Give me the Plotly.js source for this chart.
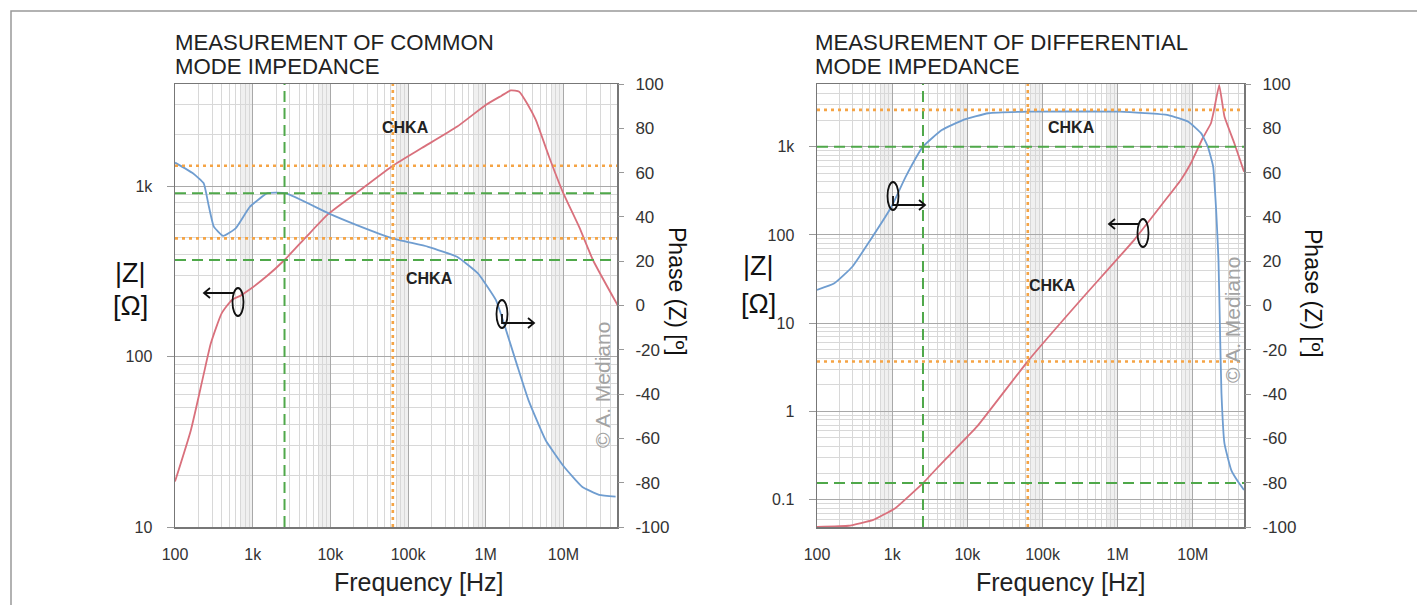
<!DOCTYPE html>
<html><head><meta charset="utf-8">
<script src="https://cdn.plot.ly/plotly-3.0.1.min.js"></script>
<style>html,body{margin:0;padding:0;background:#fff;}#chart{width:1417px;height:605px;}</style>
</head><body><div id="chart"></div>
<script>
// ---------- data ----------
const cmZFreq = [100, 160, 230, 290, 400, 540, 700, 830, 1500, 2570, 5000, 9500, 25000, 63700, 150000, 430000, 1000000, 1600000, 2100000, 2700000, 3500000, 4400000, 6500000, 10000000, 16000000, 24000000, 50000000];
const cmZMag = [18.5, 37, 76, 120, 180, 215, 228, 240, 295, 369, 510, 690, 960, 1320, 1675, 2240, 3000, 3400, 3650, 3590, 3000, 2460, 1500, 907, 575, 369, 200];
const cmPhFreq = [100, 170, 234, 270, 316, 417, 603, 923, 1550, 2660, 9480, 21900, 63100, 182000, 427000, 794000, 1350000, 1660000, 2570000, 3550000, 5890000, 10200000, 17400000, 28800000, 47000000];
const cmPhase = [64.5, 59.7, 55.2, 45.5, 35.6, 31.4, 34.8, 44.6, 50.7, 50.7, 41.6, 36.3, 30.3, 26.5, 22, 14.5, 2.5, -6.5, -27.6, -42.7, -60.7, -72.8, -81.8, -85.5, -86.3];

const dmZFreq = [100, 263, 562, 1100, 2570, 4570, 13500, 63100, 324000, 1660000, 4570000, 6920000, 9330000, 13500000, 17400000, 19100000, 22400000, 26300000, 35500000, 47900000];
const dmZMag = [0.049, 0.0506, 0.059, 0.080, 0.154, 0.26, 0.675, 3.67, 18.4, 88, 265, 420, 640, 1245, 1840, 2600, 5000, 2200, 1100, 520];
const dmPhFreq = [100, 170, 295, 513, 977, 1510, 2570, 4570, 8710, 19000, 63100, 1070000, 4680000, 8700000, 12900000, 15800000, 18600000, 20400000, 21900000, 22900000, 24000000, 26300000, 32400000, 39800000, 47900000];
const dmPhase = [7, 10, 17.5, 29.6, 44.6, 58.1, 71.7, 79.2, 83.7, 86.8, 87.5, 87.5, 86, 83, 77.7, 71.7, 62.7, 43, 20.5, -9.6, -39.6, -62.2, -74.3, -79.5, -83.3];

const freqTickVals = [100, 1000, 10000, 100000, 1000000, 10000000];
const freqTickText = ['100', '1k', '10k', '100k', '1M', '10M'];
const cmZTickVals = [10, 100, 1000];
const cmZTickText = ['10', '100', '1k'];
const dmZTickVals = [0.1, 1, 10, 100, 1000];
const dmZTickText = ['0.1', '1', '10', '100', '1k'];
const phaseTickVals = [-100, -80, -60, -40, -20, 0, 20, 40, 60, 80, 100];
const phaseTickText = ['-100', '-80', '-60', '-40', '-20', '0', '20', '40', '60', '80', '100'];

// marker (cursor) lines: [green, orange]
const markerFreq = [2570, 63700];
const cmMarkerPhase = [50.7, 30.3];
const cmMarkerZ = [369, 1320];
const dmMarkerPhase = [71.7, 88.3];
const dmMarkerZ = [0.154, 3.67];

const labelCHKA = 'CHKA';
const titleCM = ['MEASUREMENT OF COMMON', 'MODE IMPEDANCE'];
const titleDM = ['MEASUREMENT OF DIFFERENTIAL', 'MODE IMPEDANCE'];

// ---------- layout helpers ----------
const W = 1417, H = 605;
const px = x => x / W, py = y => 1 - y / H;
const FONT = 'Liberation Sans, Arial, sans-serif';
const RED = '#d9707c', BLUE = '#6f9dd0', GREEN = '#4fa84a', ORANGE = '#f5a445';

function minorVals(lo, hi) {
  const v = [];
  for (let e = lo; e <= hi; e++) for (let m = 2; m <= 9; m++) v.push(m * Math.pow(10, e));
  return v;
}

const traces = [
  {x: cmZFreq, y: cmZMag, xaxis: 'x', yaxis: 'y', mode: 'lines', line: {color: RED, width: 1.8, shape: 'spline', smoothing: 0.5}, hoverinfo: 'skip'},
  {x: cmPhFreq, y: cmPhase, xaxis: 'x', yaxis: 'y2', mode: 'lines', line: {color: BLUE, width: 1.8, shape: 'spline', smoothing: 0.4}, hoverinfo: 'skip'},
  {x: dmZFreq, y: dmZMag, xaxis: 'x2', yaxis: 'y3', mode: 'lines', line: {color: RED, width: 1.8, shape: 'spline', smoothing: 0.3}, hoverinfo: 'skip'},
  {x: dmPhFreq, y: dmPhase, xaxis: 'x2', yaxis: 'y4', mode: 'lines', line: {color: BLUE, width: 1.8, shape: 'spline', smoothing: 0.4}, hoverinfo: 'skip'}
];

const tickFont = {family: FONT, size: 16, color: '#333'};
function xAx(domain, range) {
  return {type: 'log', domain, range, tickvals: freqTickVals, ticktext: freqTickText, tickfont: tickFont,
    showgrid: true, gridcolor: '#a9a9a9', gridwidth: 1, zeroline: false, showline: true, linecolor: '#777', linewidth: 1.5, mirror: true,
    ticks: '', ticklabelstandoff: 12,
    minor: {tickvals: minorVals(2, 7), showgrid: true, gridcolor: '#d8d8d8', gridwidth: 1, ticks: ''}, fixedrange: true};
}
function zAx(anchor, range, tv, tt, lo, hi) {
  return {type: 'log', anchor, domain: [py(527), py(84)], range, tickvals: tv, ticktext: tt, tickfont: tickFont,
    showgrid: true, gridcolor: '#a9a9a9', zeroline: false, showline: true, linecolor: '#777', linewidth: 1.5, mirror: true,
    ticks: 'outside', ticklen: 7, tickcolor: '#999', ticklabelstandoff: 11,
    minor: {tickvals: minorVals(lo, hi), showgrid: true, gridcolor: '#d8d8d8', ticks: ''}, fixedrange: true};
}
function phAx(anchor, over) {
  return {anchor, overlaying: over, side: 'right', range: [-100, 100], tickvals: phaseTickVals, ticktext: phaseTickText,
    tickfont: {family: FONT, size: 17, color: '#333'}, showgrid: false, zeroline: false, showline: false, ticks: 'outside', ticklen: 6, tickcolor: '#999',
    ticklabelstandoff: 8, fixedrange: true};
}

const shapes = [];
// light grey bands near the end of each decade
['x', 'x2'].forEach(xr => {
  for (let e = 2; e <= 7; e++) {
    shapes.push({type: 'rect', xref: xr, yref: (xr === 'x' ? 'y' : 'y3') + ' domain', x0: 7 * Math.pow(10, e), x1: 10 * Math.pow(10, e), y0: 0, y1: 1,
      fillcolor: '#f0f0f0', line: {width: 0}, layer: 'below'});
  }
});
function vline(xr, yr, x, color, dash, w) {
  return {type: 'line', xref: xr, yref: yr + ' domain', x0: x, x1: x, y0: 0, y1: 1, line: {color, width: w, dash}};
}
function hline(xr, yr, y, color, dash, w) {
  return {type: 'line', xref: xr + ' domain', yref: yr, x0: 0, x1: 1, y0: y, y1: y, line: {color, width: w, dash}};
}
const GD = '11px,6px', OD = '3px,4px', GW = 2, OW = 2.6;
shapes.push(vline('x', 'y', markerFreq[0], GREEN, GD, GW), vline('x', 'y', markerFreq[1], ORANGE, OD, OW));
shapes.push(hline('x', 'y2', cmMarkerPhase[0], GREEN, GD, GW), hline('x', 'y2', cmMarkerPhase[1], ORANGE, OD, OW));
shapes.push(hline('x', 'y', cmMarkerZ[0], GREEN, GD, GW), hline('x', 'y', cmMarkerZ[1], ORANGE, OD, OW));
shapes.push(vline('x2', 'y3', markerFreq[0], GREEN, GD, GW), vline('x2', 'y3', markerFreq[1], ORANGE, OD, OW));
shapes.push(hline('x2', 'y4', dmMarkerPhase[0], GREEN, GD, GW), hline('x2', 'y4', dmMarkerPhase[1], ORANGE, OD, OW));
shapes.push(hline('x2', 'y3', dmMarkerZ[0], GREEN, GD, GW), hline('x2', 'y3', dmMarkerZ[1], ORANGE, OD, OW));

// hand-drawn axis pointers (ellipse + arrow)
function pointer(cx, cy, dir) {
  const rx = 5.5, ry = 14;
  shapes.push({type: 'circle', xref: 'paper', yref: 'paper', x0: px(cx - rx), x1: px(cx + rx), y0: py(cy + ry), y1: py(cy - ry),
    line: {color: '#111', width: 1.8}});
  let p;
  if (dir < 0) {
    const ay = cy - 9, x1 = cx - 4, x2 = cx - 34;
    p = `M${px(x1)},${py(ay)} L${px(x2)},${py(ay)} M${px(x2 + 6)},${py(ay - 5)} L${px(x2)},${py(ay)} L${px(x2 + 6)},${py(ay + 5)}`;
  } else {
    const ay = cy + 9, x1 = cx, x2 = cx + 32;
    p = `M${px(x1)},${py(cy)} L${px(x1)},${py(ay)} L${px(x2)},${py(ay)} M${px(x2 - 6)},${py(ay - 5)} L${px(x2)},${py(ay)} L${px(x2 - 6)},${py(ay + 5)}`;
  }
  shapes.push({type: 'path', xref: 'paper', yref: 'paper', path: p, line: {color: '#111', width: 1.8}});
}
pointer(238, 302, -1);
pointer(502, 314, 1);
pointer(893, 196, 1);
pointer(1143, 233, -1);

// outer frame
shapes.push({type: 'rect', xref: 'paper', yref: 'paper', x0: px(11), x1: px(1440), y0: py(640), y1: py(11), line: {color: '#999', width: 1.5}});

function ann(x, y, text, size, opts) {
  return Object.assign({xref: 'paper', yref: 'paper', x: px(x), y: py(y), text, showarrow: false, xanchor: 'center', yanchor: 'middle',
    font: {family: FONT, size, color: '#222'}}, opts || {});
}
const dark = s => ({family: FONT, size: s, color: '#111'});
const annotations = [
  ann(173, 42, titleCM[0], 22.2, {xanchor: 'left'}),
  ann(173, 67, titleCM[1], 22.2, {xanchor: 'left'}),
  ann(813, 42, titleDM[0], 22.2, {xanchor: 'left'}),
  ann(813, 67, titleDM[1], 22.2, {xanchor: 'left'}),
  ann(130, 273, '|Z|', 27, {font: dark(27)}),
  ann(130, 306, '[Ω]', 27, {font: dark(27)}),
  ann(758, 266, '|Z|', 27, {font: dark(27)}),
  ann(758, 304, '[Ω]', 27, {font: dark(27)}),
  ann(677, 291, 'Phase (Z) [º]', 23, {textangle: 90, font: dark(23)}),
  ann(1313, 293, 'Phase (Z) [º]', 23, {textangle: 90, font: dark(23)}),
  ann(419, 582, 'Frequency [Hz]', 25),
  ann(1061, 582, 'Frequency [Hz]', 25),
  ann(405, 127, '<b>' + labelCHKA + '</b>', 16),
  ann(429, 278, '<b>' + labelCHKA + '</b>', 16),
  ann(1071, 127, '<b>' + labelCHKA + '</b>', 16),
  ann(1052, 285, '<b>' + labelCHKA + '</b>', 16),
  ann(602, 385, '© A. Mediano', 21, {textangle: -90, font: {family: FONT, size: 21, color: '#a3a3a3'}}),
  ann(1232, 320, '© A. Mediano', 21, {textangle: -90, font: {family: FONT, size: 21, color: '#a3a3a3'}})
];

const layout = {
  width: W, height: H, margin: {l: 0, r: 0, t: 0, b: 0}, paper_bgcolor: '#fff', plot_bgcolor: '#fff', showlegend: false,
  font: {family: FONT},
  xaxis: Object.assign(xAx([px(175), px(617)], [2, 7.69]), {anchor: 'y'}),
  yaxis: zAx('x', [1, 3.6], cmZTickVals, cmZTickText, 1, 3),
  yaxis2: phAx('x', 'y'),
  xaxis2: Object.assign(xAx([px(817), px(1244)], [2, 7.68]), {anchor: 'y3'}),
  yaxis3: zAx('x2', [-1.31, 3.71], dmZTickVals, dmZTickText, -2, 3),
  yaxis4: phAx('x2', 'y3'),
  shapes, annotations
};
Plotly.newPlot('chart', traces, layout, {displayModeBar: false, staticPlot: true});
</script></body></html>
